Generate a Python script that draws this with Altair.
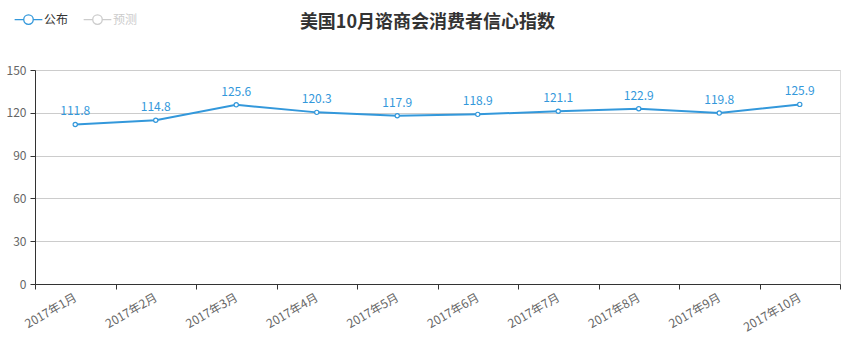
import altair as alt
import pandas as pd

months = ["2017年1月", "2017年2月", "2017年3月", "2017年4月", "2017年5月",
          "2017年6月", "2017年7月", "2017年8月", "2017年9月", "2017年10月"]
values = [111.8, 114.8, 125.6, 120.3, 117.9, 118.9, 121.1, 122.9, 119.8, 125.9]
series_names = ["公布", "预测"]

df = pd.DataFrame({"month": months, "value": values, "series": series_names[0]})

FONT = "Noto Sans CJK SC"
BLUE = "#3398DB"

legend_symbol = ("M-1.6,0 L-0.55,0 M0.55,0 L1.6,0 "
                 "M0.55,0 A0.55,0.55 0 1,1 -0.55,0 A0.55,0.55 0 1,1 0.55,0")

x = alt.X("month:N", sort=months, title=None,
          axis=alt.Axis(labelAngle=-30, labelAlign="right", labelBaseline="middle",
                        labelPadding=7, labelColor="#666", labelFontSize=12,
                        labelFont=FONT, tickBand="extent", tickSize=5,
                        tickColor="#333", domainColor="#333", grid=False))
y = alt.Y("value:Q", title=None,
          scale=alt.Scale(domain=[0, 150], nice=False),
          axis=alt.Axis(values=[0, 30, 60, 90, 120, 150], labelColor="#666",
                        labelFontSize=12, labelFont=FONT, tickSize=5,
                        tickColor="#333", domainColor="#333",
                        gridColor="#cccccc", labelPadding=4))
color = alt.Color("series:N", title=None,
                  scale=alt.Scale(domain=series_names, range=[BLUE, "#cccccc"]),
                  legend=alt.Legend(orient="none", legendX=-16, legendY=-60,
                                    direction="horizontal", symbolType=legend_symbol,
                                    symbolSize=300, symbolStrokeWidth=1.3,
                                    symbolFillColor="white", labelFont=FONT,
                                    labelFontSize=12, labelOffset=6,
                                    labelColor={"expr": "datum.label == '预测' ? '#cccccc' : '#333333'"},
                                    columnPadding=12, symbolOffset=0))

base = alt.Chart(df)
line = base.mark_line(strokeWidth=2).encode(x=x, y=y, color=color)
pts = base.mark_point(filled=True, fill="white", size=18, strokeWidth=1.2,
                      opacity=1).encode(x=x, y=y, stroke=alt.Stroke("series:N", scale=alt.Scale(domain=series_names, range=[BLUE, "#cccccc"]), legend=None))
labels = base.mark_text(dy=-13, fontSize=12, font=FONT, color=BLUE).encode(
    x=x, y=y, text=alt.Text("value:Q", format=".1f"))

chart = alt.layer(line, pts, labels).properties(
    width=805, height=214,
    title=alt.TitleParams("美国10月谘商会消费者信心指数", font=FONT, fontSize=18,
                          fontWeight="bold", color="#333", anchor="middle",
                          offset=-22, dx=-10),
    autosize=alt.AutoSizeParams(type="none"),
    padding={"left": 35, "top": 70, "right": 10, "bottom": 66},
).configure_view(stroke=None).configure(font=FONT)

chart.save("out.html", embed_options={"renderer": "svg", "actions": False})
